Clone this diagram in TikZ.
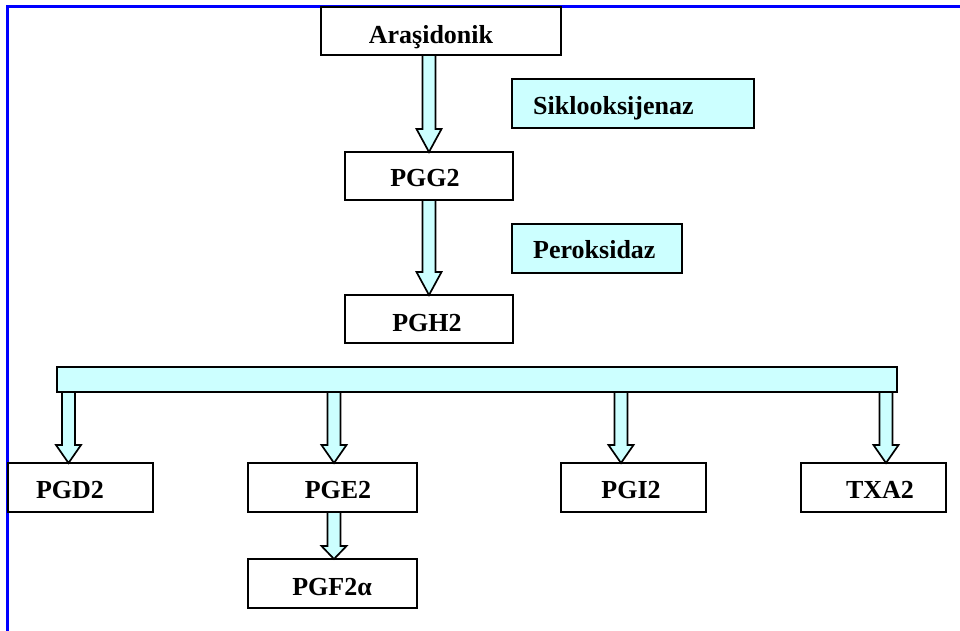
\documentclass[tikz,border=0pt]{standalone}
\usepackage{fontspec}
\setmainfont{Liberation Serif}
\usetikzlibrary{calc}
\definecolor{lcyan}{HTML}{CCFFFF}
\definecolor{frameblue}{HTML}{0000FF}
\tikzset{
  boxst/.style={draw=black, line width=1.7pt, fill=white, inner sep=0pt, outer sep=0pt},
  enzst/.style={boxst, fill=lcyan},
  lbl/.style={anchor=base, font=\fontsize{26}{30}\selectfont\bfseries, inner sep=0pt},
  arrst/.style={draw=black, line width=1.7pt, fill=lcyan, line join=miter},
}
\newcommand{\blockarr}[3]{%
  \draw[arrst] let \p1=(#1), \p2=(#2) in
    (\x1-6.5pt,\y1) -- (\x1-6.5pt,\y2+#3) -- (\x1-12.5pt,\y2+#3) -- (\x1,\y2)
    -- (\x1+12.5pt,\y2+#3) -- (\x1+6.5pt,\y2+#3) -- (\x1+6.5pt,\y1) -- cycle;}
\begin{document}
\begin{tikzpicture}[x=1pt,y=-1pt]
\useasboundingbox (0,0) rectangle (960,630);
% frame
\draw[frameblue, line width=2.2pt] (7.5,632) -- (7.5,6.5) -- (962,6.5);

% boxes
\node[boxst, minimum width=240pt, minimum height=48pt] (aras) at (441,31) {};
\node[enzst, minimum width=242pt, minimum height=49pt] (sikl) at (633,103.5) {};
\node[boxst, minimum width=168pt, minimum height=48pt] (pgg) at (429,176) {};
\node[enzst, minimum width=170pt, minimum height=49pt] (perok) at (597,248.5) {};
\node[boxst, minimum width=168pt, minimum height=48pt] (pgh) at (429,319) {};
\node[enzst, minimum width=840pt, minimum height=25pt] (bar) at (477,379.5) {};
\node[boxst, minimum width=145pt, minimum height=49pt] (pgd) at (80.5,487.5) {};
\node[boxst, minimum width=169pt, minimum height=49pt] (pge) at (332.5,487.5) {};
\node[boxst, minimum width=169pt, minimum height=49pt] (pgf) at (332.5,583.5) {};
\node[boxst, minimum width=145pt, minimum height=49pt] (pgi) at (633.5,487.5) {};
\node[boxst, minimum width=145pt, minimum height=49pt] (txa) at (873.5,487.5) {};

% labels
\node[lbl] (arast) at (431,43) {Araşidonik};
\node[lbl, anchor=base west] (siklt) at (533,114) {Siklooksijenaz};
\node[lbl] (pggt) at (425,186) {PGG2};
\node[lbl, anchor=base west] (perokt) at (533,258) {Peroksidaz};
\node[lbl] (pght) at (427,331) {PGH2};
\node[lbl] (pgdt) at (70,498) {PGD2};
\node[lbl] (pget) at (338,498) {PGE2};
\node[lbl] (pgft) at (332,595) {PGF2α};
\node[lbl] (pgit) at (631,498) {PGI2};
\node[lbl] (txat) at (880,498) {TXA2};

% arrow tip coordinates
\coordinate (tipd) at (68.5,463);
\coordinate (tipe) at (334,463);
\coordinate (tipi) at (621,463);
\coordinate (tipx) at (886,463);
\coordinate (tipf) at (334,559);

% arrows
\blockarr{aras.south -| pgg.north}{pgg.north}{23pt}
\blockarr{pgg.south}{pgh.north}{23pt}
\blockarr{bar.south -| tipd}{tipd}{18pt}
\blockarr{bar.south -| tipe}{tipe}{18pt}
\blockarr{bar.south -| tipi}{tipi}{18pt}
\blockarr{bar.south -| tipx}{tipx}{18pt}
\blockarr{pge.south -| tipf}{tipf}{13pt}
\end{tikzpicture}
\end{document}
